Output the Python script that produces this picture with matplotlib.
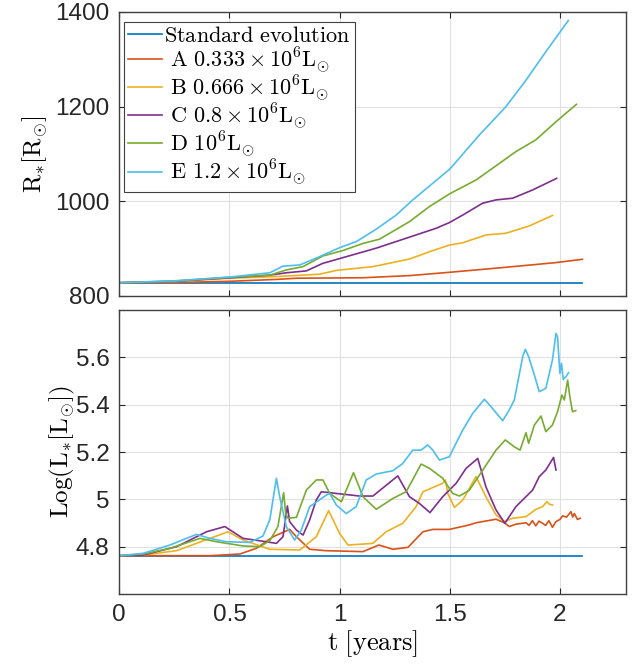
import matplotlib
matplotlib.use("Agg")
import matplotlib.pyplot as plt
from matplotlib.ticker import FormatStrFormatter

plt.rcParams['font.family'] = ['Liberation Sans', 'DejaVu Sans']
plt.rcParams['mathtext.fontset'] = 'cm'

# ---- data ----
labels = [r'$\mathrm{Standard\ evolution}$',
          r'$\mathrm{\ A\ 0.333}\times10^{6}\mathrm{L}_{\odot}$',
          r'$\mathrm{\ B\ 0.666}\times10^{6}\mathrm{L}_{\odot}$',
          r'$\mathrm{\ C\ 0.8}\times10^{6}\mathrm{L}_{\odot}$',
          r'$\mathrm{\ D\ 10}^{6}\mathrm{L}_{\odot}$',
          r'$\mathrm{\ E\ 1.2}\times10^{6}\mathrm{L}_{\odot}$']
colors = ['#0072BD', '#D95319', '#EDB120', '#7E2F8E', '#77AC30', '#4DBEEE']

# radius, top panel
t_std = [0, 2.10]
R_std = [828, 828]
L_std = [4.762, 4.762]

tA_R = [0, 0.25, 0.502, 0.713, 0.804, 1.106, 1.317, 1.498, 1.74, 1.982, 2.102]
A_R = [828, 828.5, 831, 835, 837.5, 838.5, 843, 850, 860, 870.5, 877.5]

tB_R = [0, 0.25, 0.502, 0.713, 0.909, 0.985, 1.151, 1.317, 1.408, 1.498, 1.559,
        1.665, 1.755, 1.861, 1.966]
B_R = [828, 830.5, 837.5, 841, 846, 854, 862, 878, 893.5, 907.5, 912.5,
       929, 932.5, 948, 970]

tC_R = [0, 0.25, 0.502, 0.683, 0.758, 0.849, 0.924, 1.015, 1.166, 1.302, 1.438,
        1.498, 1.559, 1.649, 1.71, 1.785, 1.876, 1.985]
C_R = [828, 831, 838.5, 844, 849, 853, 869, 881, 901, 922, 943,
       955, 971, 996, 1003, 1006.5, 1024, 1048.5]

tD_R = [0, 0.25, 0.502, 0.683, 0.758, 0.834, 0.924, 1.015, 1.106, 1.181, 1.317,
        1.408, 1.5, 1.619, 1.725, 1.8, 1.891, 1.982, 2.075]
D_R = [828, 831.5, 839.5, 844, 855, 862, 884.5, 896, 911, 920, 957,
       989, 1016, 1045, 1080, 1105, 1130, 1168, 1205]

tE_R = [0, 0.25, 0.502, 0.683, 0.743, 0.819, 0.894, 1.0, 1.076, 1.166, 1.257,
        1.332, 1.5, 1.634, 1.755, 1.846, 1.936, 2.038]
E_R = [828, 832, 840, 849, 863, 865.5, 880, 902, 915, 941, 971,
       1003, 1068, 1140, 1200, 1256, 1316, 1382]

# log luminosity, bottom panel
tA_L = [0, 0.411, 0.547, 0.622, 0.698, 0.773, 0.804, 0.864, 0.94, 1.106, 1.178,
        1.242, 1.31, 1.378, 1.423, 1.498, 1.589, 1.619, 1.71, 1.748, 1.77,
        1.80, 1.846, 1.86, 1.875, 1.89, 1.905, 1.921, 1.935, 1.95, 1.966,
        1.982, 2.0, 2.012, 2.03, 2.05, 2.058, 2.065, 2.08, 2.092]
A_L = [4.762, 4.762, 4.769, 4.793, 4.842, 4.873, 4.842, 4.789, 4.783, 4.779, 4.807,
       4.789, 4.797, 4.863, 4.873, 4.873, 4.892, 4.901, 4.916, 4.901, 4.885,
       4.895, 4.901, 4.89, 4.91, 4.888, 4.908, 4.899, 4.89, 4.91, 4.882,
       4.906, 4.915, 4.93, 4.925, 4.948, 4.925, 4.94, 4.915, 4.92]

tB_L = [0, 0.109, 0.26, 0.411, 0.494, 0.562, 0.683, 0.819, 0.894, 0.95, 1.0,
        1.038, 1.106, 1.151, 1.211, 1.287, 1.347, 1.378, 1.468, 1.48, 1.491,
        1.521, 1.559, 1.619, 1.664, 1.71, 1.748, 1.785, 1.846, 1.891, 1.921,
        1.941, 1.951, 1.966]
B_L = [4.762, 4.765, 4.783, 4.835, 4.863, 4.828, 4.789, 4.786, 4.842, 4.952, 4.856,
       4.807, 4.811, 4.814, 4.863, 4.899, 4.969, 5.032, 5.068, 5.082, 5.025,
       4.966, 4.997, 5.096, 5.011, 4.934, 4.906, 4.92, 4.927, 4.958, 4.969,
       4.99, 4.98, 4.976]

tC_L = [0, 0.109, 0.26, 0.396, 0.479, 0.562, 0.637, 0.713, 0.743, 0.763, 0.773,
        0.804, 0.834, 0.864, 0.894, 0.917, 0.985, 1.09, 1.151, 1.264, 1.317,
        1.362, 1.41, 1.468, 1.529, 1.574, 1.627, 1.664, 1.71, 1.75, 1.8,
        1.876, 1.906, 1.936, 1.971, 1.982]
C_L = [4.762, 4.765, 4.8, 4.863, 4.885, 4.835, 4.825, 4.814, 4.842, 4.972, 4.906,
       4.87, 4.849, 4.913, 4.997, 5.032, 5.025, 5.014, 5.014, 5.099, 5.011,
       4.983, 4.944, 5.011, 5.068, 5.131, 5.173, 5.053, 4.955, 4.899, 4.969,
       5.039, 5.096, 5.124, 5.177, 5.124]

tD_L = [0, 0.109, 0.23, 0.366, 0.441, 0.562, 0.637, 0.683, 0.72, 0.735, 0.746,
        0.755, 0.766, 0.804, 0.849, 0.894, 0.924, 0.955, 1.008, 1.03, 1.063,
        1.106, 1.166, 1.242, 1.302, 1.37, 1.408, 1.468, 1.513, 1.544, 1.589,
        1.65, 1.71, 1.752, 1.793, 1.819, 1.846, 1.858, 1.884, 1.914, 1.936,
        1.966, 1.989, 2.009, 2.02, 2.035, 2.045, 2.057, 2.072]
D_L = [4.762, 4.769, 4.793, 4.835, 4.821, 4.803, 4.8, 4.825, 4.885, 4.969, 5.028,
       4.941, 4.92, 4.924, 5.039, 5.082, 5.082, 5.025, 4.99, 5.039, 5.113,
       5.011, 4.958, 5.004, 5.032, 5.149, 5.131, 5.089, 5.025, 5.014, 5.039,
       5.124, 5.208, 5.251, 5.222, 5.208, 5.282, 5.237, 5.314, 5.352, 5.286,
       5.314, 5.37, 5.441, 5.42, 5.504, 5.434, 5.37, 5.375]

tE_L = [0, 0.109, 0.23, 0.35, 0.411, 0.486, 0.592, 0.652, 0.683, 0.713, 0.728,
        0.758, 0.796, 0.826, 0.864, 0.94, 0.955, 0.985, 1.03, 1.075, 1.121,
        1.166, 1.242, 1.287, 1.332, 1.37, 1.4, 1.423, 1.453, 1.498, 1.536,
        1.559, 1.604, 1.657, 1.687, 1.74, 1.77, 1.793, 1.831, 1.843, 1.858,
        1.884, 1.906, 1.936, 1.966, 1.982, 1.989, 2.0, 2.007, 2.015, 2.027,
        2.039]
E_L = [4.762, 4.772, 4.807, 4.852, 4.835, 4.821, 4.818, 4.845, 4.913, 5.089, 5.011,
       4.885, 4.828, 4.87, 4.969, 5.018, 5.025, 4.976, 4.94, 4.969, 5.082,
       5.107, 5.121, 5.152, 5.208, 5.208, 5.23, 5.208, 5.166, 5.18, 5.251,
       5.293, 5.363, 5.423, 5.392, 5.332, 5.378, 5.42, 5.603, 5.634, 5.603,
       5.525, 5.455, 5.469, 5.589, 5.701, 5.687, 5.532, 5.575, 5.507, 5.518,
       5.535]

top_series = [(t_std, R_std), (tA_R, A_R), (tB_R, B_R), (tC_R, C_R), (tD_R, D_R), (tE_R, E_R)]
bot_series = [(t_std, L_std), (tA_L, A_L), (tB_L, B_L), (tC_L, C_L), (tD_L, D_L), (tE_L, E_L)]

fig = plt.figure(figsize=(6.39, 6.66), dpi=100)
ax1 = fig.add_axes([0.1867, 0.5556, 0.793, 0.4264])
ax2 = fig.add_axes([0.1867, 0.1081, 0.793, 0.4264])


def style(ax):
    ax.set_xlim(0, 2.3)
    ax.set_xticks([0, 0.5, 1, 1.5, 2])
    ax.grid(True, color='#e0e0e0', lw=0.8)
    ax.set_axisbelow(True)
    ax.tick_params(direction='in', length=4, width=0.8, top=True, right=True,
                   labelsize=17.5, colors='#262626', pad=7)
    for s in ax.spines.values():
        s.set_color('#404040')
        s.set_linewidth(1.0)


for (t, v), c, lab in zip(top_series, colors, labels):
    ax1.plot(t, v, color=c, lw=1.2, label=lab)
for (t, v), c in zip(bot_series, colors):
    ax2.plot(t, v, color=c, lw=1.2)

style(ax1)
style(ax2)
ax1.set_ylim(800, 1400)
ax1.set_yticks([800, 1000, 1200, 1400])
ax1.tick_params(labelbottom=False)
ax2.set_ylim(4.6, 5.8)
ax2.set_yticks([4.8, 5.0, 5.2, 5.4, 5.6])
ax2.yaxis.set_major_formatter(FormatStrFormatter('%g'))
ax2.xaxis.set_major_formatter(FormatStrFormatter('%g'))

ax1.set_ylabel(r'$\mathrm{R}_{*}[\mathrm{R}_{\odot}]$', fontsize=18, labelpad=4)
ax2.set_ylabel(r'$\mathrm{Log}(\mathrm{L}_{*}[\mathrm{L}_{\odot}])$', fontsize=18, labelpad=-1)
ax2.set_xlabel(r'$\mathrm{t\ [years]}$', fontsize=19, labelpad=2)

leg = ax1.legend(loc='upper left', bbox_to_anchor=(0.0093, 0.966), borderaxespad=0,
                 fontsize=16, handlelength=1.5, handletextpad=0.1, labelspacing=-0.08,
                 borderpad=0.2, fancybox=False, framealpha=1)
leg.get_frame().set_edgecolor('#404040')
leg.get_frame().set_linewidth(0.8)

fig.savefig('out.png', dpi=100)
